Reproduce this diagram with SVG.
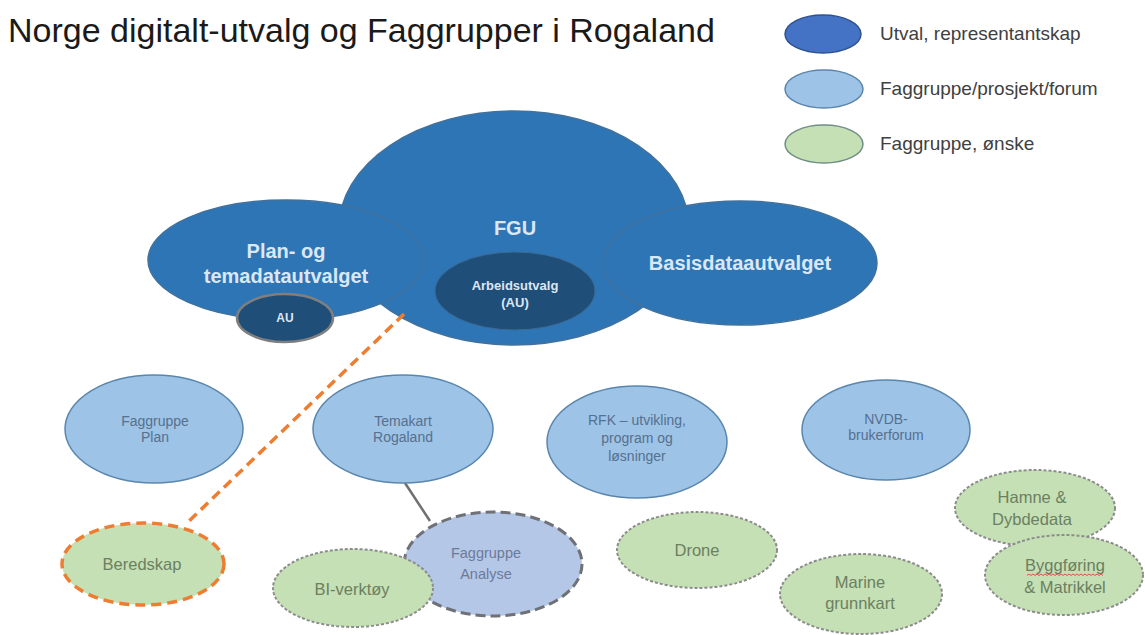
<svg xmlns="http://www.w3.org/2000/svg" width="1145" height="635" viewBox="0 0 1145 635">
<defs>
<style>
text{font-family:"Liberation Sans",Arial,sans-serif;text-anchor:middle}
.title{font-size:34px;fill:#1a1a1a;text-anchor:start}
.leg{font-size:19px;fill:#404040;text-anchor:start}
.big{fill:#2E75B6;stroke:#41719C;stroke-width:1.5}
.bigt{font-size:20px;font-weight:bold;fill:#DAE8F6}
.navy{fill:#1F4E79}
.navyt{font-size:13px;font-weight:bold;fill:#DCE6F2}
.lb{fill:#9DC3E6;stroke:#5A86AE;stroke-width:1.5}
.lbt{font-size:14px;fill:#56708F}
.gr{fill:#C5E0B4;stroke:#8C8C8C;stroke-width:2;stroke-dasharray:3 2}
.grt{font-size:16.5px;fill:#6B7F62}
</style>
</defs>
<rect width="1145" height="635" fill="#ffffff"/>
<text class="title" x="8" y="42">Norge digitalt-utvalg og Faggrupper i Rogaland</text>
<g id="legend">
<ellipse cx="823" cy="34" rx="38" ry="19" fill="#4472C4" stroke="#2F528F" stroke-width="1.5"/>
<text class="leg" x="880" y="40">Utval, representantskap</text>
<ellipse cx="824" cy="89" rx="39" ry="19" fill="#9DC3E6" stroke="#5A86AE" stroke-width="1.5"/>
<text class="leg" x="880" y="95">Faggruppe/prosjekt/forum</text>
<ellipse cx="824" cy="144" rx="39" ry="19" fill="#C5E0B4" stroke="#6F8F86" stroke-width="1.5"/>
<text class="leg" x="880" y="150">Faggruppe, ønske</text>
</g>
<g id="fgu">
<ellipse class="big" cx="514" cy="228" rx="175" ry="117"/>
<text class="bigt" x="515" y="235">FGU</text>
</g>
<g id="plan">
<ellipse class="big" cx="286" cy="260" rx="138" ry="60"/>
<text class="bigt" x="286" y="258">Plan- og</text>
<text class="bigt" x="286" y="283">temadatautvalget</text>
</g>
<g id="basis">
<ellipse class="big" cx="740" cy="263" rx="137" ry="62"/>
<text class="bigt" x="740" y="270">Basisdataautvalget</text>
</g>
<g id="arbeidsutvalg">
<ellipse class="navy" cx="515" cy="291" rx="80" ry="39" stroke="#3A6B96" stroke-width="1"/>
<text class="navyt" x="515" y="290">Arbeidsutvalg</text>
<text class="navyt" x="515" y="307">(AU)</text>
</g>
<g id="au">
<ellipse class="navy" cx="285" cy="318" rx="48" ry="24" stroke="#7F7F7F" stroke-width="2.5"/>
<text class="navyt" x="285" y="322" style="font-size:12px">AU</text>
</g>
<g id="connectors">
<line x1="404" y1="314" x2="187" y2="523" stroke="#ED7D31" stroke-width="3.5" stroke-dasharray="10 6"/>
<line x1="405" y1="483" x2="430" y2="521" stroke="#707070" stroke-width="2.5"/>
</g>
<g id="faggruppe-plan">
<ellipse class="lb" cx="154" cy="429" rx="89" ry="54"/>
<text class="lbt" x="155" y="426">Faggruppe</text>
<text class="lbt" x="155" y="442">Plan</text>
</g>
<g id="temakart">
<ellipse class="lb" cx="403" cy="429" rx="90" ry="54"/>
<text class="lbt" x="403" y="426">Temakart</text>
<text class="lbt" x="403" y="442">Rogaland</text>
</g>
<g id="rfk">
<ellipse class="lb" cx="637" cy="442" rx="90" ry="56"/>
<text class="lbt" x="637" y="425">RFK – utvikling,</text>
<text class="lbt" x="637" y="443">program og</text>
<text class="lbt" x="637" y="461">løsninger</text>
</g>
<g id="nvdb">
<ellipse class="lb" cx="886" cy="430" rx="84" ry="50"/>
<text class="lbt" x="886" y="424">NVDB-</text>
<text class="lbt" x="886" y="440">brukerforum</text>
</g>
<g id="beredskap">
<ellipse cx="143" cy="564" rx="81" ry="41" fill="#C5E0B4" stroke="#ED7D31" stroke-width="3.5" stroke-dasharray="10 6"/>
<text class="grt" x="142" y="570">Beredskap</text>
</g>
<g id="faggruppe-analyse">
<ellipse cx="493" cy="564" rx="89" ry="52" fill="#B4C7E7" stroke="#6F7177" stroke-width="3" stroke-dasharray="10 5"/>
<text class="lbt" x="486" y="558" style="fill:#6C7A98;font-size:14.5px">Faggruppe</text>
<text class="lbt" x="486" y="579" style="fill:#6C7A98;font-size:14.5px">Analyse</text>
</g>
<g id="bi-verktoy">
<ellipse class="gr" cx="353" cy="588" rx="80" ry="39"/>
<text class="grt" x="352" y="595">BI-verktøy</text>
</g>
<g id="drone">
<ellipse class="gr" cx="697" cy="550" rx="80" ry="38"/>
<text class="grt" x="697" y="556">Drone</text>
</g>
<g id="marine">
<ellipse class="gr" cx="861" cy="594" rx="81" ry="40"/>
<text class="grt" x="860" y="588">Marine</text>
<text class="grt" x="860" y="609">grunnkart</text>
</g>
<g id="hamne">
<ellipse class="gr" cx="1035" cy="508" rx="80" ry="38"/>
<text class="grt" x="1032" y="503">Hamne &amp;</text>
<text class="grt" x="1032" y="525">Dybdedata</text>
</g>
<g id="byggforing">
<ellipse class="gr" cx="1064" cy="575" rx="79" ry="40"/>
<text class="grt" x="1065" y="571">Byggføring</text>
<path d="M1027 575.5 l2 -1.5 l2 1.5 l2 -1.5 l2 1.5 l2 -1.5 l2 1.5 l2 -1.5 l2 1.5 l2 -1.5 l2 1.5 l2 -1.5 l2 1.5 l2 -1.5 l2 1.5 l2 -1.5 l2 1.5 l2 -1.5 l2 1.5 l2 -1.5 l2 1.5 l2 -1.5 l2 1.5 l2 -1.5 l2 1.5 l2 -1.5 l2 1.5 l2 -1.5 l2 1.5 l2 -1.5 l2 1.5 l2 -1.5 l2 1.5 l2 -1.5 l2 1.5 l2 -1.5 l2 1.5 l2 -1.5 l2 1.5" fill="none" stroke="#E05050" stroke-width="1"/>
<text class="grt" x="1065" y="593">&amp; Matrikkel</text>
</g>
</svg>
